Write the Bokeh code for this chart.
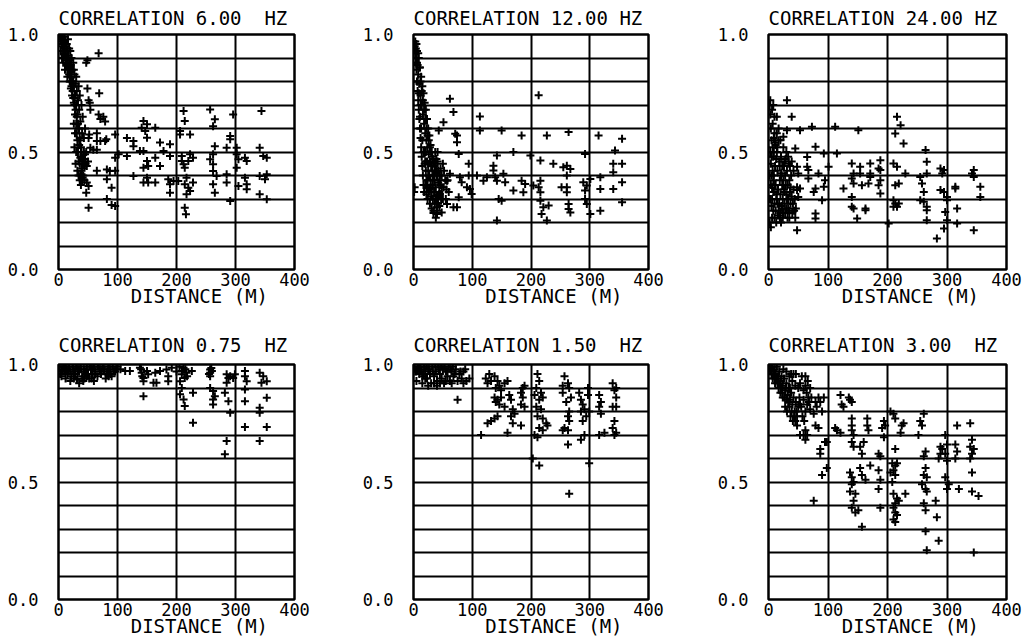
from bokeh.plotting import figure
from bokeh.layouts import column, row
from bokeh.models import Range1d, FixedTicker, PrintfTickFormatter
from bokeh.embed import file_html
from bokeh.resources import INLINE

titles = ["CORRELATION 6.00\u00a0 HZ", "CORRELATION 12.00 HZ", "CORRELATION 24.00 HZ",
          "CORRELATION 0.75\u00a0 HZ", "CORRELATION 1.50\u00a0 HZ", "CORRELATION 3.00\u00a0 HZ"]
x_ticks = [0, 100, 200, 300, 400]
y_ticks = [0.0, 0.5, 1.0]
y_grid = [0.0, 0.1, 0.2, 0.3, 0.4, 0.5, 0.6, 0.7, 0.8, 0.9, 1.0]
x_label = "\u00a0\u00a0\u00a0\u00a0DISTANCE (M)"

pts_6hz = [
    (3,0.99),(4,0.97),(5,0.98),(6,0.96),(6,0.99),(7,0.95),(8,0.97),(8,0.93),(9,0.96),(10,0.94),(10,0.91),(11,0.97),
    (12,0.92),(12,0.89),(13,0.95),(14,0.9),(14,0.87),(15,0.93),(16,0.88),(16,0.85),(17,0.91),(18,0.86),(18,0.83),
    (19,0.89),(20,0.84),(20,0.8),(21,0.87),(22,0.82),(22,0.78),(23,0.85),(24,0.8),(24,0.76),(25,0.73),(25,0.88),
    (26,0.78),(26,0.71),(27,0.83),(28,0.74),(28,0.66),(29,0.79),(30,0.7),(30,0.62),(31,0.76),(31,0.58),(32,0.66),
    (32,0.55),(33,0.72),(33,0.5),(34,0.6),(34,0.46),(35,0.53),(35,0.68),(36,0.45),(36,0.56),(37,0.4),(37,0.63),
    (38,0.48),(38,0.52),(39,0.42),(40,0.58),(40,0.47),(41,0.39),(42,0.45),(43,0.5),(44,0.44),
    (4,0.93),(6,0.9),(8,0.88),(9,0.92),(11,0.85),(13,0.88),(15,0.82),(17,0.86),(19,0.8),(21,0.77),(23,0.74),
    (25,0.8),(27,0.7),(29,0.68),(31,0.65),(33,0.62),(35,0.6),(37,0.55),(26,0.62),(28,0.58),(27,0.52),(30,0.5),
    (29,0.45),(32,0.42),(34,0.4),(36,0.38),(40,0.38),(42,0.4),(44,0.38),(46,0.45),(47,0.5),(43,0.56),(45,0.6),
    (41,0.65),(39,0.7),(36,0.74),(34,0.78),(30,0.82),(26,0.85),(22,0.9),(18,0.94),(14,0.96),(10,0.99),(7,0.99),
    (16,0.98),(20,0.93),(45,0.47),(48,0.44),(40,0.43),(50,0.46),(38,0.36),
    (68,0.92),(49,0.89),(47,0.88),(49,0.77),(69,0.75),(51,0.72),(53,0.71),(54,0.68),(68,0.66),(71,0.64),(79,0.63),
    (76,0.65),(52,0.575),(65,0.58),(51,0.56),(65,0.547),(81,0.554),(96,0.575),(71,0.547),(54,0.518),(59,0.51),
    (39,0.5),(65,0.51),(79,0.547),(37,0.476),(45,0.49),(42,0.448),(39,0.405),(48,0.37),(51,0.355),(47,0.327),
    (51,0.263),(65,0.42),(82,0.426),(87,0.419),(96,0.42),(82,0.384),(90,0.348),(82,0.3),(90,0.275),(96,0.27),
    (102,0.49),(96,0.476),(116,0.56),(127,0.547),(127,0.525),(116,0.483),(127,0.398),(138,0.504),(141,0.603),
    (144,0.632),(150,0.618),(147,0.589),(150,0.561),(144,0.504),(150,0.462),(152,0.44),(144,0.433),(150,0.39),
    (144,0.37),(152,0.37),(164,0.37),(164,0.603),(164,0.476),(172,0.44),(172,0.54),(178,0.504),(189,0.533),
    (189,0.483),(186,0.384),(189,0.363),(189,0.327),(195,0.377),(203,0.377),(206,0.589),(206,0.575),(209,0.483),
    (209,0.462),(212,0.448),(214,0.433),(212,0.674),(214,0.632),(223,0.575),(220,0.462),(223,0.49),(217,0.39),
    (214,0.363),(220,0.348),(217,0.32),(223,0.334),(214,0.263),(216,0.235),(228,0.476),(228,0.37),(257,0.681),
    (265,0.639),(262,0.61),(265,0.525),(262,0.49),(257,0.469),(262,0.448),(262,0.419),(268,0.398),(262,0.363),
    (265,0.327),(285,0.405),(285,0.37),(285,0.518),(291,0.568),(291,0.554),(296,0.66),(291,0.292),(302,0.518),
    (302,0.49),(305,0.469),(302,0.433),(305,0.355),(316,0.476),(319,0.462),(316,0.39),(319,0.363),(319,0.341),
    (344,0.674),(341,0.518),(347,0.483),(353,0.476),(341,0.398),(353,0.405),(350,0.384),(341,0.32),(353,0.299),
]

pts_12hz = [
    (2,0.95),(3,0.92),(4,0.94),(4,0.88),(5,0.9),(5,0.85),(6,0.93),(6,0.8),(7,0.87),(7,0.76),(8,0.83),(8,0.72),
    (9,0.9),(9,0.68),(10,0.79),(10,0.64),(11,0.86),(11,0.6),(12,0.74),(12,0.56),(13,0.82),(13,0.52),(14,0.7),
    (14,0.48),(15,0.78),(15,0.44),(16,0.66),(16,0.4),(17,0.75),(17,0.36),(18,0.62),(18,0.33),(19,0.71),(19,0.5),
    (20,0.58),(20,0.46),(21,0.68),(21,0.42),(22,0.55),(22,0.38),(23,0.64),(23,0.35),(24,0.52),(24,0.3),(25,0.6),
    (25,0.45),(26,0.49),(26,0.4),(27,0.57),(27,0.34),(28,0.46),(28,0.28),(29,0.53),(29,0.38),(30,0.44),(30,0.31),
    (31,0.5),(31,0.26),(32,0.42),(32,0.36),(33,0.47),(33,0.3),(34,0.4),(34,0.24),(35,0.45),(35,0.33),(36,0.38),
    (36,0.28),(37,0.5),(38,0.35),(38,0.22),(39,0.42),(40,0.3),(40,0.25),(41,0.46),(42,0.37),(43,0.32),(44,0.27),
    (45,0.4),(46,0.43),(48,0.35),(50,0.3),(1,0.33),(2,0.35),
    (3,0.97),(5,0.96),(6,0.88),(8,0.92),(10,0.86),(12,0.8),(14,0.76),(16,0.72),(18,0.68),(20,0.64),(22,0.6),
    (24,0.57),(26,0.55),(28,0.52),(30,0.5),(32,0.48),(34,0.46),(36,0.44),(38,0.42),(40,0.4),(42,0.42),(44,0.38),
    (46,0.36),(48,0.4),(50,0.45),(52,0.42),(54,0.38),(56,0.34),(47,0.3),(44,0.33),(42,0.28),(38,0.3),(36,0.33),
    (26,0.33),(24,0.38),(22,0.32),(20,0.36),(15,0.55),(13,0.6),(11,0.65),(9,0.75),(7,0.8),(12,0.7),(17,0.5),
    (19,0.45),(21,0.5),(23,0.46),(25,0.42),(27,0.4),(29,0.35),(31,0.33),(33,0.38),(35,0.4),(37,0.45),(39,0.47),
    (41,0.5),(55,0.3),(60,0.33),(58,0.38),
    (213,0.741),(62,0.727),(68,0.67),(113,0.651),(51,0.627),(43,0.592),(113,0.592),(150,0.592),(71,0.578),
    (74,0.542),(74,0.57),(184,0.57),(227,0.57),(264,0.585),(315,0.57),(355,0.556),(343,0.506),(292,0.492),
    (340,0.45),(355,0.45),(340,0.414),(355,0.371),(340,0.343),(355,0.286),(318,0.343),(318,0.393),(318,0.25),
    (301,0.385),(295,0.357),(292,0.3),(295,0.279),(301,0.236),(289,0.371),(292,0.336),(261,0.442),(255,0.435),
    (267,0.428),(261,0.4),(261,0.35),(261,0.329),(264,0.279),(264,0.257),(267,0.243),(252,0.35),(238,0.45),
    (216,0.464),(216,0.378),(213,0.35),(216,0.329),(216,0.293),(221,0.265),(218,0.236),(227,0.208),(230,0.272),
    (199,0.485),(184,0.378),(187,0.329),(190,0.364),(204,0.357),(170,0.5),(170,0.336),(153,0.407),(156,0.371),
    (142,0.485),(136,0.442),(136,0.421),(139,0.393),(142,0.378),(145,0.3),(150,0.293),(142,0.208),(125,0.393),
    (119,0.378),(108,0.4),(94,0.45),(94,0.4),(91,0.35),(96,0.343),(99,0.321),(77,0.492),(79,0.393),(82,0.371),
    (77,0.307),(68,0.265),(74,0.265),(62,0.407),(57,0.378),(51,0.35),(45,0.321),(40,0.265),(40,0.236),(34,0.25),
    (48,0.243),(57,0.279),
]

pts_24hz = [
    (2,0.7),(3,0.66),(4,0.6),(5,0.55),(3,0.5),(4,0.45),(5,0.4),(6,0.35),(3,0.3),(5,0.27),(6,0.22),(7,0.52),
    (8,0.48),(8,0.38),(9,0.33),(10,0.28),(10,0.58),(11,0.44),(12,0.36),(12,0.25),(13,0.2),(14,0.5),(14,0.3),
    (15,0.42),(16,0.34),(16,0.23),(17,0.55),(18,0.46),(18,0.28),(19,0.38),(20,0.32),(20,0.24),(21,0.48),(22,0.41),
    (22,0.27),(23,0.36),(24,0.3),(24,0.22),(25,0.52),(26,0.44),(26,0.34),(27,0.28),(28,0.4),(28,0.24),(29,0.47),
    (30,0.32),(30,0.26),(31,0.42),(32,0.36),(32,0.22),(33,0.3),(34,0.45),(35,0.38),(35,0.25),(36,0.33),(37,0.28),
    (38,0.4),(40,0.24),(42,0.34),(44,0.3),(46,0.26),(48,0.35),(2,0.4),(1,0.3),(2,0.2),(4,0.18),
    (5,0.48),(7,0.42),(9,0.4),(11,0.36),(13,0.32),(15,0.28),(17,0.25),(19,0.22),(21,0.2),(23,0.26),(25,0.24),
    (27,0.33),(29,0.36),(31,0.3),(33,0.26),(35,0.22),(37,0.35),(39,0.31),(41,0.28),(43,0.25),(45,0.22),(9,0.5),
    (11,0.54),(13,0.47),(15,0.52),(19,0.44),(21,0.4),(23,0.44),(25,0.38),(27,0.46),(30,0.5),(33,0.48),(36,0.44),
    (39,0.46),(42,0.42),(6,0.3),(8,0.25),(10,0.22),(4,0.36),(7,0.62),(9,0.56),(12,0.53),(10,0.65),
    (3,0.72),(8,0.7),(6,0.68),(14,0.65),(31,0.72),(39,0.65),(17,0.6),(14,0.58),(20,0.55),(25,0.565),(31,0.593),
    (53,0.593),(73,0.607),(112,0.607),(151,0.593),(216,0.65),(222,0.614),(213,0.579),(227,0.536),(264,0.508),
    (45,0.515),(79,0.522),(93,0.494),(115,0.494),(65,0.479),(65,0.437),(67,0.423),(67,0.387),(48,0.437),(50,0.409),
    (53,0.345),(48,0.338),(50,0.309),(84,0.409),(101,0.437),(95,0.38),(93,0.352),(79,0.345),(76,0.33),(90,0.295),
    (79,0.238),(79,0.217),(48,0.167),(126,0.345),(140,0.451),(143,0.409),(140,0.387),(143,0.366),(140,0.309),
    (140,0.267),(143,0.26),(154,0.437),(154,0.409),(157,0.359),(149,0.217),(163,0.26),(163,0.252),(171,0.451),
    (171,0.409),(168,0.366),(171,0.394),(188,0.465),(185,0.43),(188,0.38),(185,0.359),(188,0.323),(188,0.423),
    (210,0.451),(216,0.437),(219,0.366),(213,0.359),(210,0.295),(213,0.281),(216,0.267),(219,0.281),(210,0.267),
    (202,0.196),(230,0.409),(255,0.394),(258,0.366),(261,0.33),(255,0.295),(261,0.288),(266,0.267),(266,0.252),
    (266,0.21),(266,0.458),(266,0.409),(289,0.43),(295,0.423),(292,0.409),(289,0.338),(295,0.33),(300,0.309),
    (300,0.295),(297,0.245),(300,0.21),(295,0.174),(283,0.132),(314,0.352),(314,0.345),(317,0.26),(317,0.196),
    (345,0.423),(342,0.409),(345,0.394),(356,0.352),(356,0.309),(345,0.167),
]

pts_075hz = [
    (2,0.99),(5,0.98),(8,0.99),(10,0.97),(12,0.98),(15,0.96),(18,0.99),(20,0.97),(22,0.95),(25,0.98),(28,0.96),
    (30,0.99),(32,0.94),(35,0.97),(38,0.98),(40,0.95),(42,0.93),(45,0.97),(48,0.99),(50,0.96),(52,0.94),(55,0.98),
    (58,0.96),(60,0.99),(63,0.97),(66,0.95),(70,0.98),(72,0.96),(75,0.99),(78,0.97),(80,0.94),(84,0.98),(88,0.96),
    (92,0.99),(96,0.97),(5,0.95),(12,0.94),(35,0.92),(20,0.93),(60,0.93),(85,0.99),(48,0.95),(31,0.936),(85,0.95),
    (3,0.96),(7,0.97),(11,0.99),(14,0.98),(17,0.97),(24,0.99),(27,0.97),(33,0.98),(37,0.99),(43,0.98),(47,0.96),
    (53,0.99),(57,0.98),(62,0.96),(67,0.99),(73,0.97),(77,0.98),(82,0.96),(87,0.98),(90,0.95),(94,0.97),(98,0.98),
    (26,0.94),(44,0.94),(56,0.94),(100,0.99),(105,0.98),(140,0.98),(142,0.95),(205,0.99),(200,0.97),(215,0.98),
    (218,0.95),(255,0.96),(259,0.985),
    (113,0.972),(121,0.972),(138,0.986),(141,0.965),(144,0.943),(144,0.929),(150,0.972),(152,0.958),(164,0.965),
    (161,0.922),(166,0.922),(172,0.972),(183,0.979),(186,0.95),(186,0.929),(192,0.986),(144,0.865),(212,0.986),
    (209,0.972),(209,0.958),(214,0.943),(217,0.965),(226,0.972),(206,0.929),(209,0.9),(206,0.873),(212,0.851),
    (214,0.823),(228,0.88),(228,0.752),(257,0.979),(257,0.965),(257,0.95),(260,0.972),(257,0.9),(262,0.887),
    (265,0.865),(262,0.851),(262,0.83),(285,0.958),(288,0.943),(291,0.95),(285,0.922),(282,0.88),(288,0.844),
    (291,0.795),(285,0.674),(282,0.618),(299,0.958),(296,0.943),(316,0.972),(316,0.95),(319,0.929),(316,0.894),
    (316,0.844),(316,0.734),(341,0.965),(347,0.95),(353,0.929),(344,0.922),(341,0.816),(341,0.795),(353,0.858),
    (353,0.734),(341,0.674),
]

pts_15hz = [
    (2,0.99),(5,0.97),(8,0.99),(10,0.96),(12,0.98),(15,0.95),(18,0.99),(20,0.97),(23,0.94),(25,0.98),(28,0.96),
    (30,0.92),(32,0.99),(35,0.95),(38,0.97),(40,0.93),(42,0.99),(45,0.96),(48,0.94),(50,0.98),(52,0.92),(55,0.97),
    (58,0.95),(60,0.99),(62,0.93),(65,0.97),(68,0.95),(72,0.98),(75,0.93),(78,0.96),(82,0.94),(85,0.97),(90,0.93),
    (95,0.94),(5,0.93),(15,0.92),(40,0.91),(45,0.92),(75,0.85),
    (3,0.97),(7,0.98),(11,0.99),(14,0.97),(17,0.96),(22,0.99),(27,0.98),(33,0.97),(37,0.99),(43,0.98),(47,0.99),
    (53,0.99),(57,0.97),(63,0.98),(67,0.99),(70,0.96),(80,0.97),(88,0.98),(20,0.94),(35,0.92),(55,0.93),(65,0.92),
    (25,0.91),(85,0.92),
    (123,0.94),(126,0.92),(129,0.96),(132,0.93),(138,0.95),(140,0.9),(143,0.93),(146,0.91),(149,0.89),(155,0.92),
    (160,0.93),(138,0.86),(140,0.84),(143,0.85),(146,0.83),(149,0.86),(155,0.82),(163,0.87),(166,0.85),(169,0.81),
    (172,0.79),(166,0.78),(183,0.88),(186,0.86),(189,0.91),(183,0.83),(189,0.82),(132,0.76),(138,0.77),(143,0.78),
    (126,0.75),(115,0.7),(160,0.71),(169,0.75),(183,0.74),(186,0.9),
    (211,0.96),(214,0.93),(209,0.9),(217,0.88),(206,0.87),(214,0.85),(220,0.86),(209,0.82),(217,0.81),(211,0.78),
    (220,0.77),(226,0.75),(214,0.73),(206,0.7),(220,0.72),(228,0.74),(211,0.69),(203,0.6),(214,0.57),(257,0.95),
    (254,0.91),(263,0.92),(265,0.9),(254,0.88),(268,0.86),(260,0.84),(265,0.8),(263,0.78),(257,0.73),(263,0.72),
    (265,0.76),(254,0.72),(263,0.66),(265,0.45),(282,0.88),(285,0.85),(288,0.83),(291,0.81),(285,0.8),(294,0.78),
    (297,0.9),(297,0.87),(299,0.8),(288,0.76),(291,0.7),(285,0.68),(299,0.58),
    (316,0.87),(319,0.84),(316,0.82),(319,0.79),(325,0.71),(316,0.7),(339,0.92),(345,0.9),(342,0.89),(345,0.86),
    (339,0.82),(345,0.82),(342,0.76),(339,0.73),(345,0.71),(342,0.7),
]

pts_3hz = [
    (2,0.99),(4,0.98),(6,0.99),(8,0.97),(10,0.98),(12,0.96),(14,0.99),(16,0.95),(18,0.97),(20,0.93),(22,0.95),
    (24,0.91),(26,0.94),(28,0.89),(30,0.92),(32,0.87),(34,0.9),(36,0.85),(38,0.88),(40,0.83),(42,0.86),(44,0.8),
    (46,0.84),(48,0.78),(50,0.82),(45,0.76),(48,0.74),(25,0.98),(30,0.97),(35,0.95),(40,0.93),(45,0.91),(42,0.96),
    (50,0.9),(36,0.9),(30,0.85),(24,0.86),(20,0.88),(15,0.92),(10,0.94),(28,0.82),(62,0.95),(66,0.93),(70,0.9),
    (3,0.97),(5,0.96),(7,0.94),(9,0.96),(11,0.92),(13,0.94),(17,0.9),(19,0.92),(21,0.9),(23,0.88),(27,0.86),
    (29,0.9),(31,0.8),(33,0.84),(35,0.82),(37,0.78),(39,0.8),(41,0.76),(43,0.78),(47,0.8),(52,0.86),(55,0.82),
    (57,0.78),(60,0.76),(64,0.88),(68,0.84),(72,0.86),(56,0.95),(46,0.96),(38,0.96),
    (53,0.92),(59,0.89),(62,0.91),(59,0.85),(53,0.83),(62,0.8),(65,0.83),(67,0.86),(70,0.81),(76,0.79),(79,0.84),
    (81,0.82),(84,0.86),(87,0.84),(93,0.86),(90,0.8),(62,0.72),(65,0.7),(59,0.7),(53,0.7),(62,0.68),(79,0.74),
    (84,0.73),(95,0.67),(87,0.64),(87,0.62),(90,0.53),(76,0.42),
    (112,0.73),(115,0.72),(121,0.71),(121,0.87),(123,0.83),(126,0.82),(135,0.86),(137,0.85),(140,0.84),(98,0.67),
    (98,0.56),(140,0.77),(140,0.74),(140,0.72),(143,0.7),(140,0.67),(143,0.65),(137,0.54),(140,0.52),(143,0.5),
    (140,0.49),(137,0.46),(146,0.45),(143,0.42),(140,0.39),(146,0.37),(151,0.38),(157,0.31),(154,0.65),(157,0.62),
    (160,0.67),(154,0.56),(157,0.53),(163,0.51),(166,0.77),(166,0.74),(168,0.72),(171,0.57),(185,0.62),(188,0.61),
    (185,0.55),(188,0.51),(185,0.47),(188,0.39),(191,0.73),(194,0.76),(196,0.74),(194,0.69),
    (205,0.8),(210,0.79),(213,0.77),(213,0.64),(208,0.58),(213,0.57),(216,0.58),(210,0.55),(205,0.54),(213,0.53),
    (208,0.5),(210,0.45),(216,0.43),(213,0.41),(219,0.42),(210,0.39),(213,0.37),(216,0.36),(210,0.34),(213,0.33),
    (224,0.74),(227,0.75),(222,0.71),(230,0.45),
    (255,0.76),(261,0.79),(258,0.74),(252,0.7),(264,0.63),(261,0.61),(264,0.56),(261,0.53),(266,0.52),(258,0.49),
    (264,0.47),(266,0.46),(261,0.41),(264,0.38),(264,0.29),(266,0.21),(281,0.42),(283,0.35),(286,0.25),(289,0.65),
    (292,0.64),(289,0.62),(286,0.6),(297,0.7),(300,0.66),(297,0.62),(300,0.59),(297,0.52),(303,0.49),(300,0.47),
    (317,0.74),(320,0.47),(314,0.66),(317,0.63),(314,0.6),(339,0.75),(342,0.68),(339,0.65),(345,0.64),(342,0.62),
    (339,0.6),(342,0.54),(342,0.46),(353,0.44),(345,0.2),
]

panels = [pts_6hz, pts_12hz, pts_24hz, pts_075hz, pts_15hz, pts_3hz]

FONT = "DejaVu Sans Mono"

def make(i, width, height, right, top, bottom, title_gap):
    pts = panels[i]
    xs = [a for a, b in pts]
    ys = [b for a, b in pts]
    p = figure(width=width, height=height, x_range=Range1d(0, 400), y_range=Range1d(0, 1),
               output_backend="svg", toolbar_location=None,
               min_border_left=58, min_border_right=right, min_border_top=top, min_border_bottom=bottom,
               background_fill_color="white", border_fill_color="white")
    p.title.text = titles[i]
    p.title.text_font = FONT
    p.title.text_font_size = "19px"
    p.title.text_font_style = "normal"
    p.title.text_color = "black"
    p.title.align = "left"
    p.title.vertical_align = "middle"
    p.title.standoff = title_gap
    p.outline_line_color = "black"
    p.outline_line_width = 2.5
    p.outline_line_alpha = 1
    p.xaxis.ticker = FixedTicker(ticks=x_ticks)
    p.yaxis.ticker = FixedTicker(ticks=y_ticks)
    p.yaxis.formatter = PrintfTickFormatter(format="%.1f")
    p.xgrid.ticker = FixedTicker(ticks=x_ticks)
    p.ygrid.ticker = FixedTicker(ticks=y_grid)
    for g in (p.xgrid, p.ygrid):
        g.grid_line_color = "black"
        g.grid_line_width = 2
        g.grid_line_alpha = 1
    for ax in (p.xaxis, p.yaxis):
        ax.axis_line_color = None
        ax.major_tick_line_color = None
        ax.minor_tick_line_color = None
        ax.major_label_text_font = FONT
        ax.major_label_text_font_size = "17px"
        ax.major_label_text_color = "black"
    p.xaxis.major_label_standoff = -3
    p.yaxis.major_label_standoff = 14
    p.xaxis.axis_label = x_label
    p.xaxis.axis_label_text_font = FONT
    p.xaxis.axis_label_text_font_size = "19px"
    p.xaxis.axis_label_text_font_style = "normal"
    p.xaxis.axis_label_text_color = "black"
    p.xaxis.axis_label_standoff = -4
    p.scatter(xs, ys, marker="cross", size=8, line_color="black", line_width=2)
    return p

p1 = make(0, 355, 320, 61, 34, 51, 10)
p2 = make(1, 355, 320, 62, 34, 51, 10)
p3 = make(2, 318, 320, 22, 34, 51, 10)
p4 = make(3, 355, 319, 61, 44, 39, 15)
p5 = make(4, 355, 319, 62, 44, 39, 15)
p6 = make(5, 318, 319, 22, 44, 39, 15)

layout = column(row(p1, p2, p3, spacing=0), row(p4, p5, p6, spacing=0), spacing=0)

open("out.html", "w").write(file_html(layout, INLINE))
